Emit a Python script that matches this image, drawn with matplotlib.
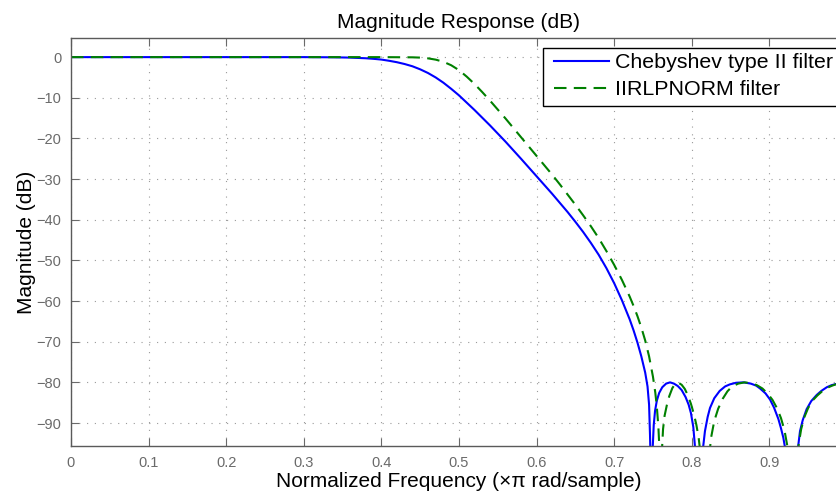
import matplotlib
matplotlib.use('Agg')
import matplotlib.pyplot as plt
from matplotlib.patches import Rectangle

plt.rcParams['font.family'] = ['Liberation Sans', 'DejaVu Sans']

# Chebyshev type II response (x in units of pi rad/sample, y in dB)
cheby_freq = [0.0, 0.1, 0.2, 0.3, 0.34, 0.36, 0.38, 0.39, 0.40, 0.41, 0.42, 0.43,
              0.44, 0.45, 0.46, 0.47, 0.48, 0.49, 0.50, 0.52, 0.54, 0.56, 0.58,
              0.60, 0.62, 0.64, 0.65, 0.66, 0.67, 0.68, 0.69, 0.70, 0.71, 0.72,
              0.725, 0.73, 0.735, 0.74, 0.743, 0.745, 0.7462, 0.747, 0.748,
              0.7497, 0.751, 0.7527, 0.755, 0.758, 0.762, 0.767, 0.772, 0.777,
              0.782, 0.787, 0.792, 0.796, 0.799, 0.802, 0.804, 0.806, 0.8095,
              0.8125, 0.8149, 0.817, 0.8205, 0.8235, 0.829, 0.836, 0.843, 0.849,
              0.857, 0.8665, 0.876, 0.883, 0.888, 0.895, 0.9008, 0.906, 0.9116,
              0.915, 0.918, 0.9215, 0.929, 0.936, 0.9395, 0.943, 0.948, 0.954,
              0.961, 0.967, 0.974, 0.980, 0.986, 0.993, 1.0]
cheby_db = [0.0, 0.0, 0.0, 0.0, -0.05, -0.12, -0.28, -0.42, -0.6, -0.9, -1.25, -1.7,
            -2.25, -3.0, -3.9, -5.0, -6.3, -7.8, -9.4, -13.0, -16.8, -20.8, -25.0,
            -29.3, -33.6, -38.1, -40.5, -43.0, -45.7, -48.6, -51.9, -55.6, -59.8, -64.5,
            -67.2, -70.2, -73.6, -77.6, -81.0, -85.5, -93.0, -100.0, -120.0,
            -96.0, -90.5, -87.0, -84.5, -82.6, -81.2, -80.3, -80.0, -80.3,
            -80.9, -81.9, -83.6, -85.5, -87.6, -91.0, -95.5, -101.0, -120.0,
            -101.0, -95.5, -92.0, -88.5, -86.3, -83.9, -82.1, -81.0, -80.5,
            -80.1, -80.0, -80.3, -80.8, -81.5, -82.7, -84.2, -86.2, -89.0,
            -91.3, -93.6, -97.5, -120.0, -97.5, -92.0, -89.3, -86.6, -84.6,
            -83.1, -82.1, -81.2, -80.7, -80.4, -80.1, -80.0]

# IIRLPNORM response
lpnorm_freq = [0.0, 0.1, 0.2, 0.3, 0.4, 0.44, 0.45, 0.46, 0.47, 0.48, 0.49, 0.50,
               0.51, 0.52, 0.53, 0.54, 0.55, 0.56, 0.57, 0.58, 0.59, 0.60, 0.61,
               0.62, 0.63, 0.64, 0.65, 0.66, 0.67, 0.68, 0.69, 0.70, 0.71, 0.72,
               0.725, 0.73, 0.735, 0.74, 0.745, 0.75, 0.753, 0.755, 0.757, 0.7585,
               0.760, 0.7615, 0.763, 0.765, 0.768, 0.771, 0.775, 0.779, 0.783,
               0.787, 0.791, 0.795, 0.799, 0.803, 0.806, 0.809, 0.8115, 0.8175,
               0.8225, 0.825, 0.829, 0.834, 0.840, 0.846, 0.852, 0.860, 0.868,
               0.876, 0.884, 0.891, 0.898, 0.904, 0.910, 0.915, 0.9195, 0.9235,
               0.926, 0.931, 0.936, 0.938, 0.941, 0.945, 0.950, 0.956, 0.962,
               0.968, 0.975, 0.981, 0.987, 0.993, 1.0]
lpnorm_db = [0.0, 0.0, 0.0, 0.0, 0.0, -0.05, -0.12, -0.3, -0.62, -1.15, -2.0, -3.2,
             -4.8, -6.6, -8.6, -10.7, -12.9, -15.1, -17.4, -19.7, -22.0, -24.3, -26.6,
             -28.9, -31.3, -33.8, -36.3, -38.9, -41.6, -44.5, -47.7, -51.1, -54.8, -58.9,
             -61.2, -63.7, -66.5, -69.7, -73.6, -78.6, -82.5, -86.0, -91.0, -97.0,
             -120.0, -97.0, -91.5, -88.2, -85.5, -83.4, -81.4, -80.3, -80.1,
             -80.6, -81.6, -83.2, -85.3, -88.0, -90.5, -93.8, -98.0, -120.0,
             -98.0, -93.5, -89.5, -86.5, -84.0, -82.2, -81.0, -80.3, -80.0,
             -80.2, -80.7, -81.5, -82.8, -84.3, -86.4, -88.8, -91.8, -96.0,
             -99.0, -120.0, -99.0, -95.0, -91.5, -88.6, -86.3, -84.4, -83.2,
             -82.2, -81.3, -80.8, -80.4, -80.1, -80.0]

x_ticks = [0, 0.1, 0.2, 0.3, 0.4, 0.5, 0.6, 0.7, 0.8, 0.9, 1.0]
x_labels = ['0', '0.1', '0.2', '0.3', '0.4', '0.5', '0.6', '0.7', '0.8', '0.9', '']
y_ticks = [0, -10, -20, -30, -40, -50, -60, -70, -80, -90]

fig = plt.figure(figsize=(8.36, 4.95), dpi=100)
# axes runs a little past the right edge, as in the reference
ax = fig.add_axes([0.0849, 0.099, 0.9282, 0.8242])

l1, = ax.plot(cheby_freq, cheby_db, color='#0000ff', linewidth=1.5)
l2, = ax.plot(lpnorm_freq, lpnorm_db, color='#008000', linewidth=1.5,
              linestyle=(0, (6, 3.5)))

ax.set_xlim(0, 1)
ax.set_ylim(-95.65, 4.7)
ax.set_xticks(x_ticks)
ax.set_xticklabels(x_labels)
ax.set_yticks(y_ticks)

ax.grid(True, color='#9a9a9a', linestyle=(0, (1, 6)), linewidth=0.8)
ax.tick_params(direction='in', length=6, width=0.8, colors='#6a6a6a',
               labelsize=10.5, top=True, right=True, pad=7)
for sp in ax.spines.values():
    sp.set_color('#5a5a5a')
    sp.set_linewidth(1.0)

ax.set_title('Magnitude Response (dB)', fontsize=15, pad=7)
ax.set_xlabel('Normalized Frequency (\u00d7\u03c0 rad/sample)', fontsize=15, labelpad=2)
ax.set_ylabel('Magnitude (dB)', fontsize=15, labelpad=0)

# legend box is cut by the right edge in the reference, so draw the frame by hand
W, H = 836, 495
frame = Rectangle((543 / W, 1 - 106 / H), 0.4, 58 / H, transform=fig.transFigure,
                  facecolor='white', edgecolor='black', linewidth=1.0, zorder=4)
fig.patches.append(frame)
leg = fig.legend([l1, l2], ['Chebyshev type II filter', 'IIRLPNORM filter'],
                 loc='upper left', bbox_to_anchor=(554 / W, 1 - 53 / H),
                 fontsize=15.4, frameon=False, borderpad=0, borderaxespad=0,
                 labelspacing=0.39, handlelength=2.57, handletextpad=0.3)
leg.set_zorder(5)

fig.savefig('out.png', dpi=100)
